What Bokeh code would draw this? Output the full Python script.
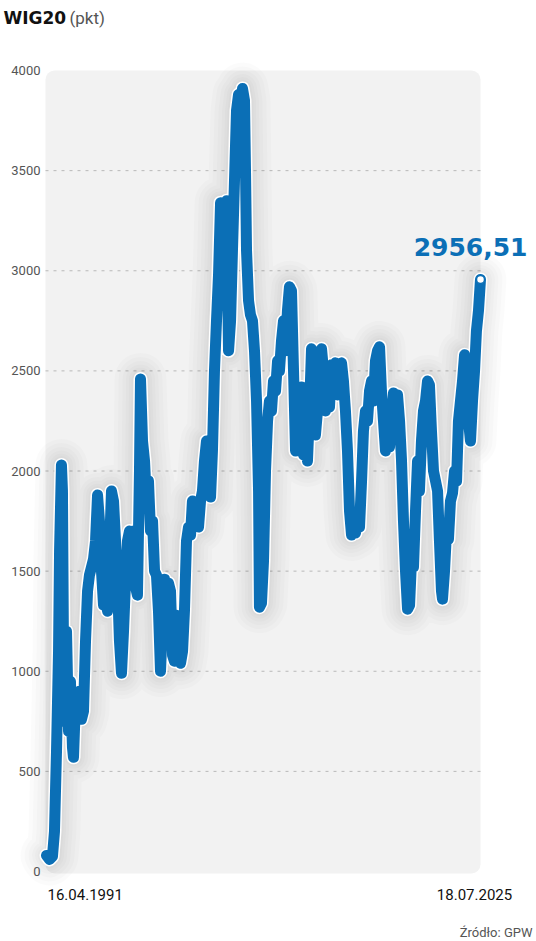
from bokeh.plotting import figure
from bokeh.models import Range1d, LinearAxis, FixedTicker, BoxAnnotation, Label
from bokeh.embed import file_html
from bokeh.resources import INLINE

# ---- data -----------------------------------------------------------------
years = [1991.29, 1991.53, 1991.76, 1991.92, 1992.08, 1992.24, 1992.32, 1992.47, 1992.55, 1992.63,
         1992.71, 1992.87, 1993.03, 1993.18, 1993.34, 1993.42, 1993.58, 1993.74, 1993.89, 1994.05,
         1994.21, 1994.37, 1994.53, 1994.68, 1994.84, 1995.00, 1995.16, 1995.32, 1995.47, 1995.63,
         1995.79, 1995.95, 1996.11, 1996.26, 1996.42, 1996.58, 1996.74, 1996.89, 1997.05, 1997.21,
         1997.37, 1997.53, 1997.68, 1997.84, 1998.00, 1998.16, 1998.32, 1998.47, 1998.63, 1998.71,
         1998.87, 1999.03, 1999.18, 1999.34, 1999.50, 1999.66, 1999.82, 1999.97, 2000.13, 2000.29,
         2000.45, 2000.61, 2000.76, 2000.92, 2001.08, 2001.24, 2001.39, 2001.55, 2001.71, 2001.87,
         2002.03, 2002.18, 2002.34, 2002.50, 2002.66, 2002.81, 2003.05, 2003.29, 2003.45, 2003.60,
         2003.76, 2003.92, 2004.08, 2004.24, 2004.39, 2004.55, 2004.71, 2004.87, 2005.03, 2005.18,
         2005.34, 2005.50, 2005.66, 2005.82, 2005.97, 2006.13, 2006.29, 2006.45, 2006.60, 2006.76,
         2006.92, 2007.00, 2007.08, 2007.24, 2007.39, 2007.55, 2007.71, 2007.87, 2008.03, 2008.10,
         2008.26, 2008.42, 2008.58, 2008.74, 2008.89, 2009.05, 2009.21, 2009.37, 2009.53, 2009.68,
         2009.84, 2010.00, 2010.16, 2010.31, 2010.47, 2010.63, 2010.79, 2010.95, 2011.10, 2011.26,
         2011.42, 2011.58, 2011.74, 2011.89, 2012.05, 2012.21, 2012.37, 2012.52, 2012.68, 2012.84,
         2013.00, 2013.16, 2013.31, 2013.47, 2013.63, 2013.79, 2013.95, 2014.10, 2014.26, 2014.42,
         2014.58, 2014.73, 2014.89, 2015.05, 2015.21, 2015.37, 2015.52, 2015.68, 2015.84, 2016.00,
         2016.16, 2016.31, 2016.47, 2016.63, 2016.79, 2016.95, 2017.10, 2017.26, 2017.42, 2017.58,
         2017.73, 2017.89, 2018.05, 2018.21, 2018.37, 2018.52, 2018.68, 2018.84, 2019.00, 2019.16,
         2019.31, 2019.47, 2019.63, 2019.79, 2019.95, 2020.10, 2020.26, 2020.42, 2020.58, 2020.73,
         2020.89, 2021.05, 2021.21, 2021.37, 2021.52, 2021.68, 2021.84, 2022.00, 2022.16, 2022.31,
         2022.47, 2022.55, 2022.71, 2022.87, 2023.02, 2023.18, 2023.34, 2023.50, 2023.66, 2023.81,
         2023.97, 2024.13, 2024.29, 2024.44, 2024.60, 2024.76, 2024.92, 2025.08, 2025.23, 2025.39,
         2025.55]

wig20 = [80, 60, 75, 200, 600, 1100, 1600, 2030, 1900, 1100,
         750, 1200, 700, 950, 620, 570, 850, 780, 900, 760,
         800, 1150, 1400, 1480, 1520, 1560, 1650, 1880, 1750, 1500,
         1330, 1400, 1300, 1600, 1900, 1850, 1650, 1450, 1150, 990,
         1200, 1450, 1650, 1700, 1620, 1700, 1420, 1380, 2000, 2460,
         2150, 2050, 1850, 1950, 1700, 1750, 1500, 1480, 1300, 1000,
         1250, 1460, 1380, 1440, 1400, 1080, 1050, 1280, 1060, 1040,
         1100, 1300, 1650, 1720, 1680, 1850, 1780, 1720, 1850, 1900,
         2050, 2150, 1950, 1870, 2100, 2500, 2750, 2980, 3340, 3300,
         3250, 3350, 2600, 2750, 3100, 3450, 3800, 3880, 3700, 3910,
         3850, 3500, 3100, 2850, 2780, 2750, 2600, 2350, 1900, 1320,
         1340, 1550, 2000, 2250, 2350, 2300, 2450, 2400, 2550, 2500,
         2650, 2750, 2600, 2800, 2920, 2900, 2500, 2100, 2380, 2300,
         2420, 2080, 2150, 2050, 2300, 2610, 2400, 2180, 2300, 2450,
         2610, 2500, 2300, 2350, 2320, 2530, 2450, 2540, 2380, 2520,
         2540, 2450, 2300, 2100, 1800, 1680, 1700, 1690, 1750, 1720,
         1950, 2200, 2300, 2250, 2400, 2450, 2350, 2550, 2600, 2620,
         2400, 2250, 2100, 2300, 2120, 2250, 2390, 2300, 2380, 2250,
         2060, 1750, 1500, 1310, 1330, 1550, 1520, 1800, 2050, 1900,
         2150, 2300, 2350, 2450, 2430, 2200, 2000, 1950, 1900, 1650,
         1400, 1360, 1500, 1700, 1660, 1850, 1890, 2000, 1950, 2250,
         2350, 2450, 2580, 2450, 2250, 2150, 2350, 2500, 2700, 2800,
         2956.51]

y_ticks = [0, 500, 1000, 1500, 2000, 2500, 3000, 3500, 4000]
grid_values = [500, 1000, 1500, 2000, 2500, 3000, 3500]
date_labels = ["16.04.1991", "18.07.2025"]
title_main = "WIG20"
title_unit = "(pkt)"
source_text = "Źródło: GPW"

BLUE = "#0b6fb6"

# ---- page geometry (pixels) -------------------------------------------------
W, H = 536, 941
PX_FIRST, PX_LAST = 46, 480          # where first / last date sit
PY_ZERO, PY_TOP = 871, 70            # where 0 / 4000 sit
Y_MAX = 4000

kx = (PX_LAST - PX_FIRST) / (years[-1] - years[0])   # px per year
ky = (PY_ZERO - PY_TOP) / Y_MAX                       # px per point


def px2x(px):
    return years[0] + (px - PX_FIRST) / kx


def py2y(py):
    return (PY_ZERO - py) / ky


p = figure(width=W, height=H, title=None,
           x_range=Range1d(px2x(0), px2x(W)), y_range=Range1d(py2y(H), py2y(0)),
           x_axis_type=None, y_axis_type=None,
           output_backend="svg", toolbar_location=None,
           min_border=0, min_border_left=0, min_border_right=0,
           min_border_top=0, min_border_bottom=0,
           background_fill_color="white", border_fill_color="white",
           outline_line_color=None)
p.xgrid.visible = False
p.ygrid.visible = False

# rounded grey panel
box_left = px2x(45)
p.add_layout(BoxAnnotation(left=box_left, right=years[-1], bottom=py2y(873), top=Y_MAX,
                           fill_color="#f2f2f2", fill_alpha=1, line_color=None,
                           border_radius=9, level="underlay"))

# dashed grid lines
n = len(grid_values)
p.segment(x0=[box_left] * n, x1=[years[-1]] * n, y0=grid_values, y1=grid_values,
          line_color="#b8b8b8", line_width=1, line_dash="3 5")

# y axis, drawn at a fixed spot inside the frame
yaxis = LinearAxis(ticker=FixedTicker(ticks=y_ticks), fixed_location=px2x(42),
                   axis_line_color=None, major_tick_line_color=None,
                   minor_tick_line_color=None, major_tick_in=0, major_tick_out=0,
                   major_label_text_font="Roboto", major_label_text_font_size="13px",
                   major_label_text_color="#555555", major_label_standoff=2)
p.add_layout(yaxis, "left")

# soft shadow around the line
for w in [52, 44, 36, 29, 23, 18]:
    p.line(years, wig20, line_width=w, line_color="black", line_alpha=0.017,
           line_join="round", line_cap="round")

# white outline + blue line
p.line(years, wig20, line_width=14, line_color="white", line_join="round", line_cap="round")
p.line(years, wig20, line_width=11, line_color=BLUE, line_join="round", line_cap="round")

# end marker
p.scatter([years[-1]], [wig20[-1]], size=8, fill_color="white", line_color=BLUE, line_width=1.5)

# last value label
last_text = f"{wig20[-1]:.2f}".replace(".", ",")
p.add_layout(Label(x=px2x(527), y=py2y(246), text=last_text,
                   text_align="right", text_baseline="alphabetic",
                   text_font="DejaVu Sans", text_font_style="bold",
                   text_font_size="25px", text_color=BLUE))

# title
p.add_layout(Label(x=px2x(3), y=py2y(17.5), text=title_main,
                   text_align="left", text_baseline="alphabetic",
                   text_font="DejaVu Sans", text_font_style="bold",
                   text_font_size="17px", text_color="#111111"))
p.add_layout(Label(x=px2x(69), y=py2y(17.5), text=title_unit,
                   text_align="left", text_baseline="alphabetic",
                   text_font="Roboto", text_font_size="17px", text_color="#555555"))

# date labels
p.add_layout(Label(x=years[0], y=py2y(894), x_offset=1, text=date_labels[0],
                   text_align="left", text_baseline="alphabetic",
                   text_font="Roboto", text_font_size="15px", text_color="#111111"))
p.add_layout(Label(x=years[-1], y=py2y(894), x_offset=-6, text=date_labels[1],
                   text_align="center", text_baseline="alphabetic",
                   text_font="Roboto", text_font_size="15px", text_color="#111111"))

# source
p.add_layout(Label(x=px2x(532), y=py2y(932), text=source_text,
                   text_align="right", text_baseline="alphabetic",
                   text_font="Roboto", text_font_size="13px", text_color="#555555"))

open("out.html", "w").write(file_html(p, INLINE))
